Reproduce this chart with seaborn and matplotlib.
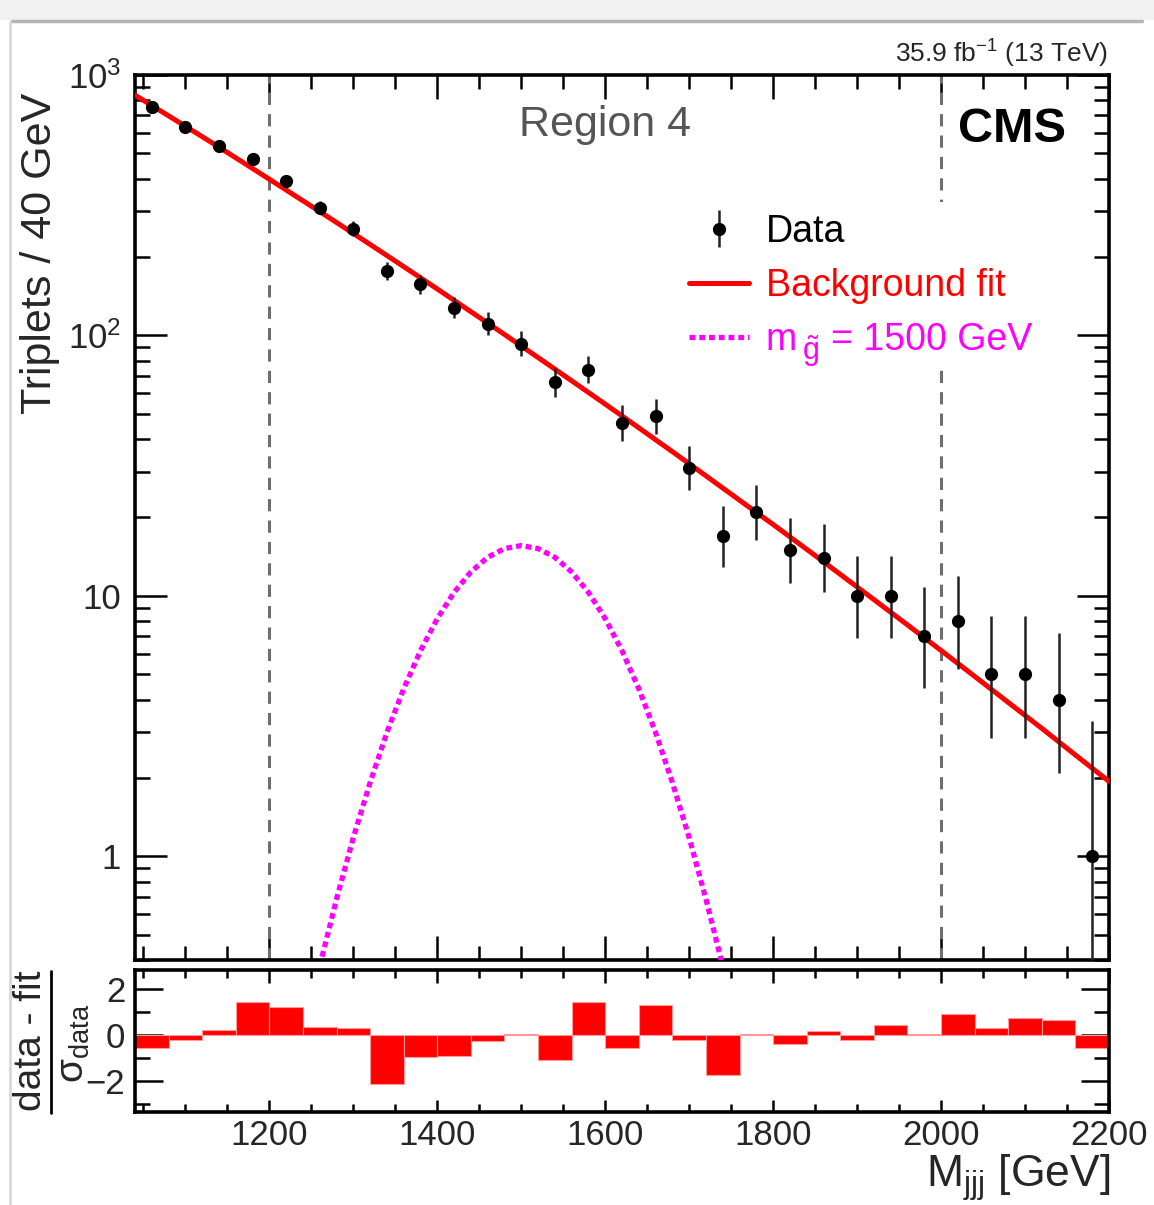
"""CMS-style trijet mass spectrum (Region 4) with residual panel."""
import numpy as np
import matplotlib
matplotlib.use("Agg")
import matplotlib.pyplot as plt
import matplotlib.ticker as mticker
from matplotlib.patches import Rectangle
from matplotlib.lines import Line2D
import seaborn as sns

# ---- data ----
bin_centers = [1060, 1100, 1140, 1180, 1220, 1260, 1300, 1340, 1380, 1420,
               1460, 1500, 1540, 1580, 1620, 1660, 1700, 1740, 1780, 1820,
               1860, 1900, 1940, 1980, 2020, 2060, 2100, 2140, 2180]
counts = [753, 632, 535, 476, 392, 309, 257, 177, 157, 128,
          111, 93, 66, 74, 46, 49, 31, 17, 21, 15,
          14, 10, 10, 7, 8, 5, 5, 4, 1]

fit_x = [1040, 1080, 1120, 1160, 1200, 1240, 1280, 1320, 1360, 1400,
         1440, 1480, 1520, 1560, 1600, 1640, 1680, 1720, 1760, 1800,
         1840, 1880, 1920, 1960, 2000, 2040, 2080, 2120, 2160, 2200]
fit_y = [837, 697, 580, 481, 398, 329, 271.5, 223.6, 183.8, 150.8,
         123.4, 100.9, 82.3, 67.0, 54.5, 44.2, 35.8, 28.9, 23.3, 18.8,
         15.1, 12.1, 9.68, 7.74, 6.17, 4.91, 3.90, 3.10, 2.45, 1.94]

sig_x = [1260, 1280, 1300, 1320, 1340, 1360, 1380, 1400, 1420, 1440,
         1460, 1480, 1500, 1520, 1540, 1560, 1580, 1600, 1620, 1640,
         1660, 1680, 1700, 1720, 1740]
sig_y = [0.379, 0.685, 1.18, 1.92, 2.99, 4.40, 6.16, 8.18, 10.32, 12.36,
         14.07, 15.2, 15.6, 15.2, 14.07, 12.36, 10.32, 8.18, 6.16, 4.40,
         2.99, 1.92, 1.18, 0.685, 0.379]

bin_edges_low = [1040 + 40 * i for i in range(29)]
pulls = [-0.54, -0.19, 0.25, 1.46, 1.25, 0.35, 0.33, -2.13, -0.93, -0.90,
         -0.25, 0.04, -1.06, 1.46, -0.55, 1.32, -0.19, -1.72, 0.04, -0.36,
         0.19, -0.19, 0.46, 0.07, 0.93, 0.32, 0.74, 0.67, -0.54]

# ---- style ----
sns.set_theme(style="ticks")
plt.rcParams["font.family"] = ["Liberation Sans", "DejaVu Sans"]
plt.rcParams["mathtext.fontset"] = "custom"
plt.rcParams["mathtext.rm"] = "Liberation Sans"
plt.rcParams["mathtext.it"] = "Liberation Sans:italic"
plt.rcParams["mathtext.bf"] = "Liberation Sans:bold"
plt.rcParams["mathtext.sf"] = "Liberation Sans"

W, H = 1154, 1205
fig = plt.figure(figsize=(W / 100, H / 100), dpi=100)
fig.patch.set_facecolor("white")

# screenshot frame remnants
fig.patches.append(Rectangle((0, 1 - 20 / H), 1, 20 / H, transform=fig.transFigure,
                             facecolor="#f1f1f1", edgecolor="none", zorder=0))
fig.lines.append(Line2D([0.01, 0.99], [1 - 21 / H, 1 - 21 / H], transform=fig.transFigure,
                        color="#b5b5b5", lw=2.5))
fig.lines.append(Line2D([10 / W, 10 / W], [0, 1 - 22 / H], transform=fig.transFigure,
                        color="#d8d8d8", lw=2))


def px_axes(left, top, right, bottom):
    return [left / W, 1 - bottom / H, (right - left) / W, (bottom - top) / H]


ax = fig.add_axes(px_axes(135, 75, 1109, 960))
rax = fig.add_axes(px_axes(135, 970, 1109, 1112))

# ---- top panel ----
n = np.array(counts, dtype=float)
up = np.sqrt(n + 0.75) + 1.0
lo = n - n * (1 - 1 / (9 * n) - 1 / (3 * np.sqrt(n))) ** 3

sns.lineplot(x=fit_x, y=fit_y, ax=ax, color="#ff0000", lw=3.6, zorder=3)
sns.lineplot(x=sig_x, y=sig_y, ax=ax, color="#ff00ff", lw=3.8,
             linestyle=(0, (1.1, 0.75)), zorder=3)
eb = ax.errorbar(bin_centers, counts, yerr=[lo, up], fmt="o", color="black",
                 ecolor="#222222", elinewidth=1.8, markersize=8.5, capsize=0, zorder=4)

for xv in (1200, 2000):
    ax.axvline(xv, color="#6e6e6e", lw=2.2, ls=(0, (4, 3)), zorder=1)

ax.set_yscale("log")
ax.set_xlim(1040, 2200)
ax.set_ylim(0.4, 1000)
ax.xaxis.set_major_locator(mticker.MultipleLocator(200))
ax.xaxis.set_minor_locator(mticker.MultipleLocator(50))
ax.yaxis.set_major_locator(mticker.FixedLocator([1, 10, 100, 1000]))
ax.yaxis.set_major_formatter(mticker.FixedFormatter(["1", "10", "$10^{2}$", "$10^{3}$"]))
ax.yaxis.set_minor_locator(mticker.LogLocator(base=10, subs=np.arange(2, 10)))
ax.yaxis.set_minor_formatter(mticker.NullFormatter())
ax.tick_params(axis="both", which="both", direction="in", top=True, right=True,
               labelbottom=False, width=1.8, color="black", labelsize=25)
ax.tick_params(axis="x", which="major", length=17)
ax.tick_params(axis="x", which="minor", length=10)
ax.tick_params(axis="y", which="major", length=23, pad=10)
ax.tick_params(axis="y", which="minor", length=11)
for sp in ax.spines.values():
    sp.set_linewidth(2.6)
    sp.set_color("black")
ax.set_xlabel("")
ax.set_ylabel("")

ax.text(0.4826, 0.944, "Region 4", transform=ax.transAxes, ha="center", va="center",
        fontsize=31, color="#555555")
ax.text(0.845, 0.938, "CMS", transform=ax.transAxes, ha="left", va="center",
        fontsize=35, fontweight="bold", color="black")

handles = [eb,
           Line2D([], [], color="#ff0000", lw=3.6),
           Line2D([], [], color="#ff00ff", lw=3.8, ls=(0, (1.1, 0.75)))]
labels = ["Data", "Background fit", "m"]
leg = ax.legend(handles, labels, loc="center left",
                bbox_to_anchor=(659 / W, 1 - 286 / H), bbox_transform=fig.transFigure,
                fontsize=27, frameon=True, facecolor="white", edgecolor="none",
                framealpha=1, handlelength=1.6, handletextpad=0.45,
                labelspacing=0.49, borderpad=0.3,
                labelcolor=["black", "#ff0000", "#ff00ff"])
leg.set_zorder(2)

# ---- residual panel ----
rax.bar(bin_edges_low, pulls, width=40, align="edge", color="#ff0000",
        edgecolor="#ff9a9a", linewidth=0.8, zorder=2)
rax.set_xlim(1040, 2200)
rax.set_ylim(-3.35, 2.85)
rax.xaxis.set_major_locator(mticker.MultipleLocator(200))
rax.xaxis.set_minor_locator(mticker.MultipleLocator(50))
rax.yaxis.set_major_locator(mticker.FixedLocator([-2, 0, 2]))
rax.yaxis.set_major_formatter(mticker.FixedFormatter(["\u22122", "0", "2"]))
rax.yaxis.set_minor_locator(mticker.FixedLocator([-3, -1, 1]))
rax.tick_params(axis="both", which="both", direction="in", top=True, right=True,
                width=1.8, color="black", labelsize=25)
rax.tick_params(axis="x", which="major", length=9, pad=5)
rax.tick_params(axis="x", which="minor", length=6)
rax.tick_params(axis="y", which="major", length=20, pad=7)
rax.tick_params(axis="y", which="minor", length=11)
for sp in rax.spines.values():
    sp.set_linewidth(2.6)
    sp.set_color("black")

# residual y label drawn as a hand-made fraction
fig.text(31 / W, 1 - 1041 / H, "data - fit", rotation=90, ha="center",
         va="center", fontsize=28)
fig.lines.append(Line2D([51 / W, 51 / W], [1 - 971 / H, 1 - 1113 / H],
                        transform=fig.transFigure, color="black", lw=2.0))
fig.text(74 / W, 1 - 1043 / H, r"σ$_{\mathrm{data}}$", rotation=90, ha="center",
         va="center", fontsize=28)

# ---- labels ----
fig.text(0.035, 1 - 253 / H, "Triplets / 40 GeV", rotation=90, ha="center",
         va="center", fontsize=31)
fig.text(1110 / W, 1 - 1187 / H, r"M$_{\mathrm{jjj}}$ [GeV]", ha="right",
         va="baseline", fontsize=32)
fig.text(1108 / W, 1 - 54 / H, r"35.9 fb$^{-1}$ (13 TeV)", ha="right",
         va="center", fontsize=19)

# gluino label: subscript sits low under the line, as in the reference
fig.canvas.draw()
renderer = fig.canvas.get_renderer()
bb = leg.get_texts()[2].get_window_extent(renderer)
yc = (bb.y0 + bb.y1) / 2
fig.text((bb.x1 + 5) / W, (yc - 11) / H, r"$\tilde{\mathrm{g}}$", ha="left",
         va="center", fontsize=22, color="#ff00ff")
fig.text((bb.x0 + 65) / W, yc / H, "= 1500 GeV", ha="left", va="center",
         fontsize=27, color="#ff00ff")

fig.savefig("out.png", dpi=100)
